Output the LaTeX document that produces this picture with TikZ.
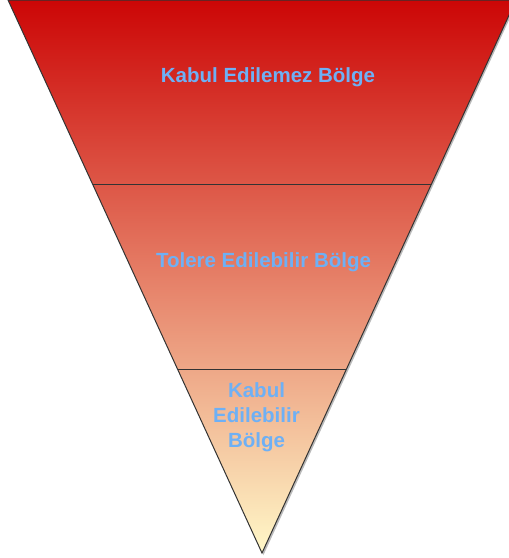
\documentclass[tikz,border=0pt]{standalone}
\usepackage{fontspec}
\setmainfont{Liberation Sans}
\begin{document}
\begin{tikzpicture}[x=1pt,y=-1pt]
\definecolor{topc}{RGB}{204,6,6}
\definecolor{botc}{RGB}{255,248,200}
\definecolor{lbl}{RGB}{110,176,245}
\tikzset{
  zonelabel/.style={text=lbl,font=\fontsize{20.5}{25}\selectfont\bfseries,align=center,inner sep=0pt},
  edge/.style={draw=black!80,line width=1pt}
}
\useasboundingbox[fill=white] (0,0) rectangle (509,558);
% shadow
\fill[black!45,opacity=0.6] (9.5,1.5) -- (517.5,1.5) -- (263.5,555) -- cycle;
% gradient triangle
\shade[top color=topc,bottom color=botc] (8,0) -- (516,0) -- (262,553) -- cycle;
\coordinate (TL) at (8,0);
\coordinate (TR) at (516,0);
\coordinate (AP) at (262,553);
% dividers
\path (TL) -- (AP) coordinate[pos=0.3345] (L1) coordinate[pos=0.669] (L2);
\path (TR) -- (AP) coordinate[pos=0.3345] (R1) coordinate[pos=0.669] (R2);
\draw[edge] (L1) -- (R1);
\draw[edge] (L2) -- (R2);
\draw[edge] (TL) -- (TR) -- (AP) -- cycle;
% labels
\node[zonelabel] (z1) at (268,77) {Kabul Edilemez Bölge};
\node[zonelabel] (z2) at (263.5,262) {Tolere Edilebilir Bölge};
\node[zonelabel] (z3) at (256.5,417) {Kabul\\Edilebilir\\Bölge};
\end{tikzpicture}
\end{document}
